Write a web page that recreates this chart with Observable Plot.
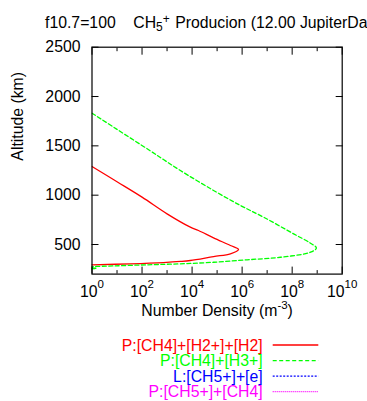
<!DOCTYPE html>
<html><head><meta charset="utf-8">
<script src="https://cdn.jsdelivr.net/npm/d3@7"></script>
<script src="https://cdn.jsdelivr.net/npm/@observablehq/plot@0.6"></script>
<style>
html,body{margin:0;padding:0;background:#fff;overflow:hidden}
#wrap{position:relative;width:367px;height:401px;overflow:hidden;font-family:"Liberation Sans",Arial,Helvetica,sans-serif;color:#000}
#title{position:absolute;left:45px;top:15px;font-size:15.8px;line-height:15.8px;white-space:pre;}
#title sub,#title sup{font-size:12px;line-height:0}
#title sub{vertical-align:-3px}
#title sup{vertical-align:5.5px;margin-right:1px}
#chart{position:absolute;left:0;top:0}
#legend{position:absolute;left:0;top:335px}
</style>
</head><body>
<div id="wrap">
  <div id="chart"></div>
  <div id="title">f10.7=100    CH<sub>5</sub><sup>+</sup> Producion (12.00 JupiterDays)</div>
  <div id="legend"></div>
</div>
<script>
// ---- data (number density in m^-3, altitude in km) ----
const seriesNames = ["P:[CH4]+[H2+]+[H2]", "P:[CH4]+[H3+]", "L:[CH5+]+[e]", "P:[CH5+]+[CH4]"];

const redDensity = [1.0, 1.0e1, 1.0e2, 1.0e3, 8.5e3, 1.8e4, 7.2e4, 3.4e5, 7.2e5, 3.4e5, 7.2e4, 8.5e3, 3.4e3, 7.2e2, 3.4e1, 1.0, 0.32];
const redAltitude = [1291, 1136, 980, 811, 676, 642, 568, 490, 449, 406, 378, 338, 328, 317, 304, 294, 291];

const greenDensity = [1.0, 1.0e1, 1.9e2, 7.2e2, 3.4e3, 7.2e4, 8.5e5, 7.2e6, 1.15e8, 5.4e8, 9.3e8, 5.4e8, 3.4e7, 1.6e6, 7.2e4, 3.4e3, 1.6e2, 7.2, 1.0, 0.32, 1.5, 0.32];
const greenAltitude = [1831, 1667, 1458, 1361, 1250, 1048, 896, 777, 608, 513, 465, 422, 371, 345, 320, 304, 294, 283, 276, 271, 258, 250];

// loss / other production terms are below the plotted range (nothing visible)
const blueDensity = [];
const blueAltitude = [];
const magentaDensity = [];
const magentaAltitude = [];

const xDomain = [1, 1e10];
const yDomain = [200, 2500];
const xMajorTicks = [1e0, 1e2, 1e4, 1e6, 1e8, 1e10];
const xMinorTicks = [1e1, 1e3, 1e5, 1e7, 1e9];
const yTicks = [500, 1000, 1500, 2000, 2500];
const xLabel = "Number Density (m^{-3})";
const yLabel = "Altitude (km)";

// ---- styles ----
const colors = ["#ff0000", "#00ff00", "#0000ff", "#ff00ff"];
const dashes = [null, "4,2.5", "2,1.5", "1,1"];
const FONT = "'Liberation Sans', Arial, Helvetica, sans-serif";
const FS = 15.8;

const toRows = (xs, ys) => xs.map((x, i) => ({x, y: ys[i]}));
const series = [
  toRows(redDensity, redAltitude),
  toRows(greenDensity, greenAltitude),
  toRows(blueDensity, blueAltitude),
  toRows(magentaDensity, magentaAltitude)
];

const W = 367, H = 335;
const plot = Plot.plot({
  width: W, height: H,
  marginTop: 46.7, marginBottom: H - 273.6, marginLeft: 91.5, marginRight: W - 341.7,
  style: {fontFamily: FONT, fontSize: FS + "px", background: "#fff", color: "#000", overflow: "visible"},
  x: {type: "log", domain: xDomain},
  y: {domain: yDomain},
  marks: [
    ...series.map((d, i) => Plot.line(d, {x: "x", y: "y", stroke: colors[i], strokeWidth: 1.3, strokeDasharray: dashes[i], curve: "catmull-rom", clip: true})),
    Plot.frame({stroke: "#000", strokeWidth: 1.2}),
    Plot.axisX({anchor: "bottom", ticks: xMajorTicks, tickSize: -7, tickFormat: () => "", label: null, stroke: "#000"}),
    Plot.axisX({anchor: "top", ticks: xMajorTicks, tickSize: -7, tickFormat: () => "", label: null, stroke: "#000"}),
    Plot.axisX({anchor: "bottom", ticks: xMinorTicks, tickSize: -3.5, tickFormat: () => "", label: null, stroke: "#000"}),
    Plot.axisX({anchor: "top", ticks: xMinorTicks, tickSize: -3.5, tickFormat: () => "", label: null, stroke: "#000"}),
    Plot.axisY({anchor: "left", ticks: yTicks, tickSize: -7, tickFormat: () => "", label: null, stroke: "#000"}),
    Plot.axisY({anchor: "right", ticks: yTicks, tickSize: -7, tickFormat: () => "", label: null, stroke: "#000"}),
    Plot.axisX({anchor: "bottom", ticks: xMajorTicks, tickSize: 0, tickPadding: 11.4, label: null, fill: "#000",
      tickFormat: d => "10^{" + Math.round(Math.log10(d)) + "}"}),
    Plot.axisY({anchor: "left", ticks: yTicks, tickSize: 0, tickPadding: 11.5, label: null, fill: "#000",
      tickFormat: d => String(d)}),
    Plot.text([xLabel], {text: d => d, frameAnchor: "bottom", lineAnchor: "bottom", dy: 41.4, fill: "#000"}),
    Plot.text([yLabel], {text: d => d, frameAnchor: "left", lineAnchor: "bottom", rotate: -90, dx: -69.5, fill: "#000"})
  ]
});

// render "^{...}" as real superscript tspans
const NS = "http://www.w3.org/2000/svg";
plot.querySelectorAll("text").forEach(t => {
  const s = t.textContent;
  if (!s.includes("^{")) return;
  const isLabel = s === xLabel;
  const rise = isLabel ? 7 : 8.7;
  const parts = s.split(/\^\{([^}]*)\}/);
  t.textContent = "";
  let raised = false;
  parts.forEach((p, i) => {
    if (!p) return;
    const ts = document.createElementNS(NS, "tspan");
    ts.textContent = p;
    if (i % 2 === 1) {
      ts.setAttribute("dy", -rise);
      ts.setAttribute("font-size", 11.5);
      raised = true;
    } else if (raised) {
      ts.setAttribute("dy", rise);
      raised = false;
    }
    t.appendChild(ts);
  });
});
document.getElementById("chart").appendChild(plot);

// legend
const leg = d3.select("#legend").append("svg").attr("width", W).attr("height", 66)
  .style("font-family", FONT).style("font-size", FS + "px");
seriesNames.forEach((name, i) => {
  const cy = 10 + i * 15.55;
  leg.append("text").attr("x", 262.7).attr("y", cy + 5.6).attr("text-anchor", "end").attr("fill", colors[i]).text(name);
  leg.append("line").attr("x1", 272.7).attr("x2", 318.3).attr("y1", cy).attr("y2", cy)
    .attr("stroke", colors[i]).attr("stroke-width", 1.3).attr("stroke-dasharray", dashes[i]);
});
</script>
</body></html>
